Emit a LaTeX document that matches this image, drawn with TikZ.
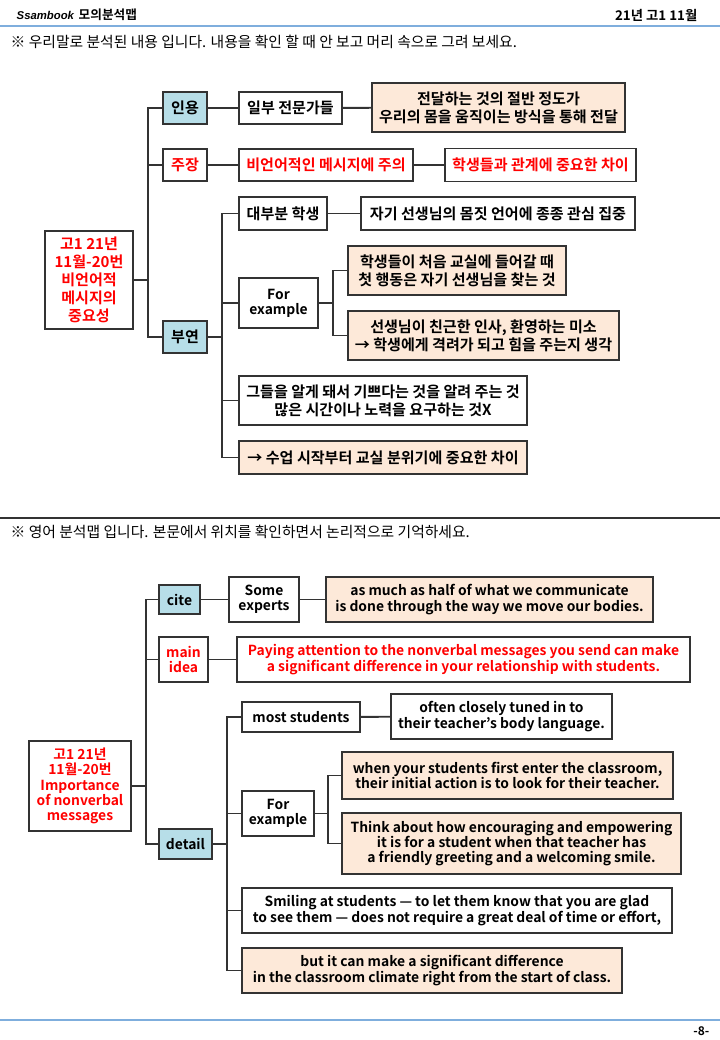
\documentclass[tikz,border=0pt]{standalone}
\usepackage{fontspec}
\setmainfont{Noto Sans CJK KR}[BoldFont={Noto Sans CJK KR Bold}]
\newfontfamily\hdrfont{Liberation Sans}
\newfontfamily\hvyfont{Noto Sans CJK KR Bold}
\definecolor{lc}{HTML}{333333}
\definecolor{peach}{HTML}{FDE9D9}
\definecolor{lblue}{HTML}{B7DEE8}
\definecolor{rtext}{HTML}{FF0000}
\definecolor{hblue}{HTML}{7FAEDD}
\tikzset{
  box/.style={draw=lc, line width=1.4pt, inner sep=0pt, align=center, fill=white},
  sz/.style 2 args={minimum width=#1*0.75pt, minimum height=#2*0.75pt},
  peachbox/.style={box, fill=peach},
  bluebox/.style={box, fill=lblue},
  red/.style={text=rtext},
  kf/.style={font=\hvyfont\fontsize{11.3}{13.5}\selectfont},
  ef/.style={font=\hvyfont\fontsize{10.4}{11.4}\selectfont},
  conn/.style={draw=lc, line width=1.4pt},
}
\begin{document}
\begin{tikzpicture}[x=0.75pt, y=-0.75pt]
\useasboundingbox (0,0) rectangle (720,1040);
% header
\node[anchor=west, font=\hdrfont\fontsize{8.5}{10}\selectfont\bfseries\itshape] (brand) at (12,15) {Ssambook};
\node[anchor=west, font=\hvyfont\fontsize{9.5}{11}\selectfont] (title) at (74,15) {모의분석맵};
\node[anchor=east, font=\hvyfont\fontsize{10}{12}\selectfont] (exam) at (702,15) {21년 고1 11월};
\draw[hblue, line width=0.9pt] (0,26) -- (720,26);
\node[anchor=west, font=\fontsize{11.1}{12}\selectfont] (inst1) at (6,42) {※ 우리말로 분석된 내용 입니다. 내용을 확인 할 때 안 보고 머리 속으로 그려 보세요.};

% top diagram
\node[box, kf, red, sz={88}{98}] (root1) at (89,280) {고1 21년\\11월-20번\\비언어적\\메시지의\\중요성};
\node[bluebox, kf, sz={44}{32}] (inyong) at (185,108) {인용};
\node[box, kf, red, sz={44}{32}] (jujang) at (185,165) {주장};
\node[bluebox, kf, sz={44}{32}] (buyeon) at (185,337) {부연};
\node[box, kf, sz={103}{32}] (expert) at (290.5,108) {일부 전문가들};
\node[peachbox, kf, sz={253}{49}] (half) at (498.5,107.5) {전달하는 것의 절반 정도가\\우리의 몸을 움직이는 방식을 통해 전달};
\node[box, kf, red, sz={174}{32}] (attn) at (326,165) {비언어적인 메시지에 주의};
\node[box, kf, red, sz={191}{33}] (diff) at (540.5,165) {학생들과 관계에 중요한 차이};
\node[box, kf, sz={88}{33}] (most) at (283,213.5) {대부분 학생};
\node[box, kf, sz={274}{33}] (tuned) at (498,213.5) {자기 선생님의 몸짓 언어에 종종 관심 집중};
\node[box, ef, sz={79}{50}] (forex) at (278.5,303) {For\\example};
\node[peachbox, kf, sz={218}{49}] (first) at (457,270.5) {학생들이 처음 교실에 들어갈 때\\첫 행동은 자기 선생님을 찾는 것};
\node[peachbox, kf, sz={271}{49}] (think) at (483.5,335.5) {선생님이 친근한 인사, 환영하는 미소\\→ 학생에게 격려가 되고 힘을 주는지 생각};
\node[box, kf, sz={288}{49}] (smile) at (383,400.5) {그들을 알게 돼서 기쁘다는 것을 알려 주는 것\\많은 시간이나 노력을 요구하는 것X};
\node[peachbox, kf, sz={288}{33}] (climate) at (383,457.5) {→ 수업 시작부터 교실 분위기에 중요한 차이};

\coordinate (t1) at (148,280);
\coordinate (t2) at (222,337);
\coordinate (t3) at (333,303);
\draw[conn] (root1.east) -- (t1);
\draw[conn] (inyong.west) -| (t1) |- (buyeon.west);
\draw[conn] (jujang.west) -- (jujang.west -| t1);
\draw[conn] (inyong) -- (expert);
\draw[conn] (expert) -- (half);
\draw[conn] (jujang) -- (attn);
\draw[conn] (attn) -- (diff);
\draw[conn] (buyeon.east) -- (t2);
\draw[conn] (most.west) -| (t2) |- (climate.west);
\draw[conn] (forex.west) -- (forex.west -| t2);
\draw[conn] (smile.west) -- (smile.west -| t2);
\draw[conn] (most) -- (tuned);
\draw[conn] (forex.east) -- (t3);
\draw[conn] (first.west) -| (t3) |- (think.west);

% separator
\draw[lc, line width=0.9pt] (0,518) -- (720,518);
\node[anchor=west, font=\fontsize{11.1}{12}\selectfont] (inst2) at (6,532) {※ 영어 분석맵 입니다. 본문에서 위치를 확인하면서 논리적으로 기억하세요.};

% bottom diagram
\node[box, ef, red, sz={102}{90}] (root2) at (80,786) {고1 21년\\11월-20번\\Importance\\of nonverbal\\messages};
\node[bluebox, ef, sz={41}{29}] (cite) at (179.5,599.5) {cite};
\node[box, ef, red, sz={49}{45}] (mainidea) at (183.5,659.5) {main\\idea};
\node[bluebox, ef, sz={53}{30}] (detail) at (185.5,844) {detail};
\node[box, ef, sz={70}{45}] (some) at (264,599.5) {Some\\experts};
\node[peachbox, ef, sz={327}{45}] (ashalf) at (489.5,599.5) {as much as half of what we communicate\\is done through the way we move our bodies.};
\node[box, ef, red, sz={453}{45}] (paying) at (463.5,659.5) {Paying attention to the nonverbal messages you send can make\\a significant difference in your relationship with students.};
\node[box, ef, sz={118}{30}] (moststu) at (301,717) {most students};
\node[box, ef, sz={221}{45}] (often) at (501.5,716.5) {often closely tuned in to\\their teacher’s body language.};
\node[box, ef, sz={72}{45}] (forex2) at (278,813.5) {For\\example};
\node[peachbox, ef, sz={331}{47}] (when) at (507.5,775.5) {when your students first enter the classroom,\\their initial action is to look for their teacher.};
\node[peachbox, ef, sz={339}{61}] (thinkabout) at (511.5,843.5) {Think about how encouraging and empowering\\it is for a student when that teacher has\\a friendly greeting and a welcoming smile.};
\node[box, ef, sz={430}{45}] (smiling) at (457,910.5) {Smiling at students — to let them know that you are glad\\to see them — does not require a great deal of time or effort,};
\node[peachbox, ef, sz={380}{45}] (butit) at (432,970.5) {but it can make a significant difference\\in the classroom climate right from the start of class.};

\coordinate (b1) at (146,786);
\coordinate (b2) at (227,844);
\coordinate (b3) at (328,813.5);
\draw[conn] (root2.east) -- (b1);
\draw[conn] (cite.west) -| (b1) |- (detail.west);
\draw[conn] (mainidea.west) -- (mainidea.west -| b1);
\draw[conn] (cite) -- (some);
\draw[conn] (some) -- (ashalf);
\draw[conn] (mainidea) -- (paying);
\draw[conn] (detail.east) -- (b2);
\draw[conn] (moststu.west) -| (b2) |- (butit.west);
\draw[conn] (forex2.west) -- (forex2.west -| b2);
\draw[conn] (smiling.west) -- (smiling.west -| b2);
\draw[conn] (moststu) -- (often);
\draw[conn] (forex2.east) -- (b3);
\draw[conn] (when.west) -| (b3) |- (thinkabout.west);

% footer
\draw[hblue, line width=0.9pt] (0,1020) -- (720,1020);
\node[anchor=east, font=\hvyfont\fontsize{9}{11}\selectfont] (page) at (714,1031) {-8-};
\end{tikzpicture}
\end{document}
